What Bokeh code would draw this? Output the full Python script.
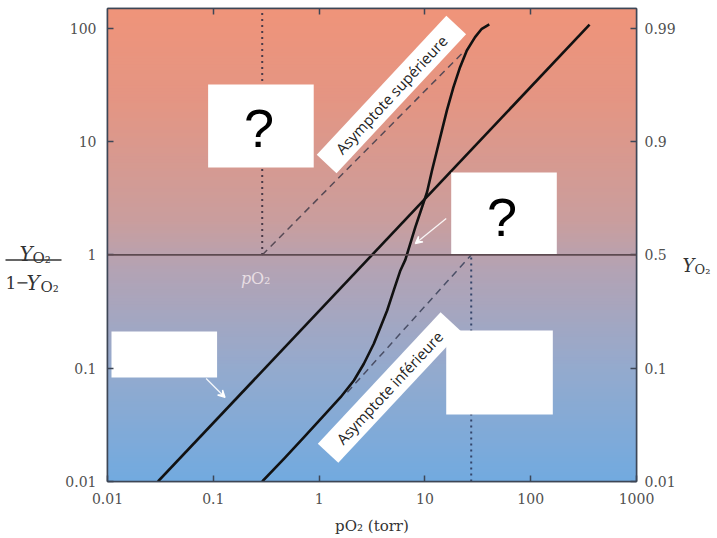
import numpy as np
from bokeh.plotting import figure
from bokeh.models import LogAxis, FixedTicker, Label, Arrow, VeeHead, Span, Range1d
from bokeh.layouts import row
from bokeh.embed import file_html
from bokeh.resources import INLINE
from bokeh.core.properties import value

# ---------------- data ----------------
x_ticks = [0.01, 0.1, 1, 10, 100, 1000]
x_tick_labels = ["0.01", "0.1", "1", "10", "100", "1000"]
y_ticks = [0.01, 0.1, 1, 10, 100]
y_tick_labels = ["0.01", "0.1", "1", "10", "100"]
y_right_labels = ["0.01", "0.1", "0.5", "0.9", "0.99"]

# myoglobin-like straight line (Hill plot, n = 1)
mb_po2 = [0.03, 360.0]
mb_ratio = [0.01, 108.0]

# hemoglobin-like sigmoid curve
hb_po2 = [0.29, 0.467, 0.721, 1.112, 1.597, 2.131, 2.648, 3.288, 3.802, 4.397, 5.074,
          5.867, 6.54, 8.12, 9.39, 10.47, 11.67, 13.0, 14.49, 16.14, 18.62, 21.5,
          24.9, 29.8, 34.5, 40.6]
hb_ratio = [0.01, 0.0159, 0.0246, 0.0383, 0.0555, 0.0779, 0.1095, 0.1644, 0.2304, 0.3236,
            0.486, 0.73, 0.91, 1.76, 2.64, 3.58, 5.57, 8.37, 12.6, 18.9, 30.3, 45.5,
            63.9, 83.8, 99.3, 108.4]

# asymptotes
upper_asym_po2 = [0.29, 24.0]
upper_asym_ratio = [1.0, 64.0]
lower_asym_po2 = [1.85, 27.4]
lower_asym_ratio = [0.0614, 1.0]

# pO2 where the asymptotes reach Y/(1-Y) = 1
p50_upper = 0.29
p50_lower = 27.4

X_MIN, X_MAX = 0.01, 1000
Y_MIN, Y_MAX = 0.01, 150

# ---------------- geometry (page pixels) ----------------
LEFT_W, RIGHT_W, TOTAL_W = 62, 37, 715
MAIN_W = TOTAL_W - LEFT_W - RIGHT_W
MAIN_H = 537
FL, FR, FT, FB = 106, 637, 8, 481        # frame edges on the page


def pg(px, py):
    """page pixel -> data coordinates of the main plot (annotations placed by eye)"""
    fx = (px - FL) / (FR - FL)
    fy = (FB - py) / (FB - FT)
    x = 10 ** (np.log10(X_MIN) + fx * (np.log10(X_MAX) - np.log10(X_MIN)))
    y = 10 ** (np.log10(Y_MIN) + fy * (np.log10(Y_MAX) - np.log10(Y_MIN)))
    return float(x), float(y)


p = figure(width=MAIN_W, height=MAIN_H, x_axis_type="log", y_axis_type="log",
           x_range=(X_MIN, X_MAX), y_range=(Y_MIN, Y_MAX),
           output_backend="svg", toolbar_location=None,
           min_border_left=FL - LEFT_W, min_border_right=MAIN_W - (FR - LEFT_W),
           min_border_top=FT, min_border_bottom=MAIN_H - FB)
p.xgrid.visible = False
p.ygrid.visible = False
p.outline_line_color = "#3d4656"
p.outline_line_width = 1.5
p.border_fill_color = "white"

# ---------------- gradient background ----------------
stops_t = [0.0, 0.2, 0.45, 0.55, 0.75, 1.0]
stops_c = [(240, 148, 122), (228, 150, 132), (202, 158, 158),
           (180, 163, 180), (150, 170, 205), (114, 170, 224)]
n = 160
ly0, ly1 = np.log10(Y_MIN), np.log10(Y_MAX)
edges = np.linspace(ly0, ly1, n + 1)
cols = []
for i in range(n):
    tt = 1 - (i + 0.5) / n
    r = np.interp(tt, stops_t, [c[0] for c in stops_c])
    g = np.interp(tt, stops_t, [c[1] for c in stops_c])
    b = np.interp(tt, stops_t, [c[2] for c in stops_c])
    cols.append("#%02x%02x%02x" % (int(r), int(g), int(b)))
bot = 10 ** edges[:-1]
top = 10 ** (edges[1:] + (ly1 - ly0) / n * 0.3)
p.quad(left=X_MIN, right=X_MAX, bottom=bot, top=top, fill_color=cols, line_color=None)

# ---------------- reference lines ----------------
p.add_layout(Span(location=1, dimension="width", line_color="#5d4a50", line_width=1.8))
p.line([p50_upper, p50_upper], [1, Y_MAX], line_color="#4a3a48", line_width=2, line_dash="2 4")
p.line([p50_lower, p50_lower], [Y_MIN, 1], line_color="#34456a", line_width=2, line_dash="2 4")

p.line(upper_asym_po2, upper_asym_ratio, line_color="#574a55", line_width=1.5, line_dash="7 5")
p.line(lower_asym_po2, lower_asym_ratio, line_color="#4a4f66", line_width=1.5, line_dash="7 5")

# ---------------- curves ----------------
p.line(mb_po2, mb_ratio, line_color="#111111", line_width=2.6)
p.line(hb_po2, hb_ratio, line_color="#111111", line_width=2.6, line_join="round")

# ---------------- white boxes ----------------
def box(x0, y0, x1, y1):
    a = pg(x0, y1)
    b = pg(x1, y0)
    p.quad(left=a[0], right=b[0], bottom=a[1], top=b[1], fill_color="white", line_color=None)

box(207, 84, 313, 167)
box(451, 172, 557, 254)
box(110, 331, 216, 377)
box(446, 330, 553, 414)

for (qx, qy) in [(258, 127), (502, 216)]:
    dx, dy = pg(qx, qy)
    p.text(x=[dx], y=[dy], text=["?"], text_font=value("Liberation Sans"),
           text_font_size="54px", text_color="black", text_align="center",
           text_baseline="middle")

# rotated asymptote labels
ang = np.radians(47)
for (cx, cy, w, h, txt) in [(391, 94, 190, 27, "Asymptote supérieure"),
                            (389, 387, 180, 28, "Asymptote inférieure")]:
    dx, dy = pg(cx, cy)
    p.rect(x=[dx], y=[dy], width=w, height=h, angle=ang, width_units="screen",
           height_units="screen", fill_color="white", line_color=None)
    p.text(x=[dx], y=[dy], text=[txt], angle=ang, text_font=value("Open Sans"),
           text_font_size="15px", text_color="#222222", text_align="center",
           text_baseline="middle")

# arrows
for (x0, y0, x1, y1) in [(205, 378, 224, 397), (446, 218, 415, 243)]:
    a = pg(x0, y0)
    b = pg(x1, y1)
    p.add_layout(Arrow(end=VeeHead(size=7, line_color="white", line_width=1.3, fill_color="white"),
                       x_start=a[0], y_start=a[1], x_end=b[0], y_end=b[1],
                       line_color="white", line_width=1.3, line_alpha=0.9))

# faint pO2 label under the y = 1 line
for (px, py, txt, style) in [(240, 278, "p", "italic"), (250, 278, "O₂", "normal")]:
    dx, dy = pg(px, py)
    p.add_layout(Label(x=dx, y=dy, text=txt, text_font="DejaVu Serif", text_font_style=style,
                       text_font_size="16px", text_color="#f3e9ec", text_alpha=0.85,
                       text_baseline="alphabetic"))

# ---------------- axes ----------------
right = LogAxis()
p.add_layout(right, "right")
top_ax = LogAxis()
p.add_layout(top_ax, "above")

axc = "#3d4656"
for ax in [p.below[0], p.left[0], right, top_ax]:
    ax.major_tick_in = 6
    ax.major_tick_out = 0
    ax.minor_tick_in = 0
    ax.minor_tick_out = 0
    ax.axis_line_color = axc
    ax.axis_line_width = 1.5
    ax.major_tick_line_color = axc
    ax.major_tick_line_width = 1.5
    ax.major_label_text_font = "DejaVu Serif"
    ax.major_label_text_font_size = "14px"
    ax.major_label_text_color = "#505050"
    ax.major_label_standoff = 11
right.major_label_standoff = 8

xb = p.below[0]
xb.ticker = FixedTicker(ticks=x_ticks, minor_ticks=[])
xb.major_label_overrides = dict(zip(x_ticks, x_tick_labels))
xb.axis_label = "pO₂ (torr)"
xb.axis_label_text_font = "DejaVu Serif"
xb.axis_label_text_font_style = "normal"
xb.axis_label_text_font_size = "15px"
xb.axis_label_text_color = "#333333"
xb.axis_label_standoff = 10

top_ax.ticker = FixedTicker(ticks=x_ticks[1:-1], minor_ticks=[])
top_ax.major_label_overrides = {tk: "" for tk in x_ticks[1:-1]}
p.left[0].ticker = FixedTicker(ticks=y_ticks, minor_ticks=[])
p.left[0].major_label_overrides = dict(zip(y_ticks, y_tick_labels))
right.ticker = FixedTicker(ticks=y_ticks, minor_ticks=[])
right.major_label_overrides = dict(zip(y_ticks, y_right_labels))


# ---------------- side titles (small text panels) ----------------
# In a row, Bokeh aligns the plot frames vertically, so these panels' frames
# span the same page rows as the main frame (FT..FB): map page y directly.
def text_panel(w, h):
    f = figure(width=w, height=h, x_range=Range1d(0, w), y_range=Range1d(FB, FT),
               output_backend="svg", toolbar_location=None,
               x_axis_location=None, y_axis_location=None,
               min_border=0, outline_line_color=None)
    f.xgrid.visible = False
    f.ygrid.visible = False
    return f


def t(f, x, y, txt, size, style="normal", font="DejaVu Serif", color="#333333"):
    f.text(x=[x], y=[y], text=[txt], text_font=value(font), text_font_style=style,
           text_font_size=size, text_color=color, text_baseline="alphabetic",
           text_align="left")


left_fig = text_panel(LEFT_W, MAIN_H)
# Y_O2 / (1 - Y_O2)
t(left_fig, 19, 253, "Y", "20px", "italic")
t(left_fig, 32, 257, "O₂", "15px")
left_fig.line([5, 61], [259.5, 259.5], line_color="#333333", line_width=1.3)
t(left_fig, 5, 282, "1", "17px")
t(left_fig, 15, 281, "−", "16px")
t(left_fig, 26, 282, "Y", "20px", "italic")
t(left_fig, 40, 286, "O₂", "15px")

right_fig = text_panel(RIGHT_W, MAIN_H)
t(right_fig, 4, 265, "Y", "18px", "italic")
t(right_fig, 16, 269, "O₂", "13px")

layout = row(left_fig, p, right_fig)

open("out.html", "w").write(file_html(layout, INLINE))
